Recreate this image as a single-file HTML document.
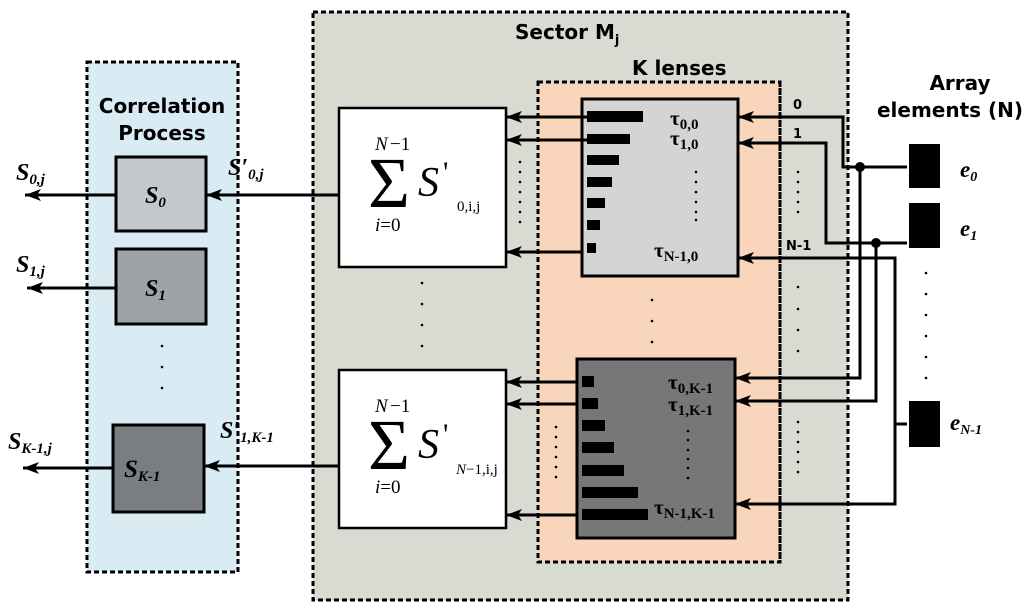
<!DOCTYPE html>
<html><head><meta charset="utf-8"><style>
html,body{margin:0;padding:0;background:#fff;}
svg{display:block;}
.sans{font-family:"DejaVu Sans","Liberation Sans",sans-serif;font-weight:bold;}
.serif{font-family:"Liberation Serif",serif;}
.bi{font-family:"Liberation Serif",serif;font-weight:bold;font-style:italic;}
.b{font-family:"Liberation Serif",serif;font-weight:bold;}
</style></head><body>
<svg width="1024" height="614" viewBox="0 0 1024 614" xmlns="http://www.w3.org/2000/svg">
<defs>
<marker id="ar2" markerWidth="16" markerHeight="12" refX="16" refY="6" orient="auto" markerUnits="userSpaceOnUse">
<path d="M0,0 L16,6 L0,12 L4,6 Z" fill="#000"/>
</marker>
</defs>
<!-- panels -->
<rect x="87" y="62" width="151" height="510" fill="#d9ecf3" stroke="#000" stroke-width="3" stroke-dasharray="5,3"/>
<rect x="313" y="12" width="535" height="588" fill="#d8dbd1" stroke="#000" stroke-width="3" stroke-dasharray="5,3"/>
<rect x="538" y="82" width="242" height="480" fill="#f8d5bb" stroke="#000" stroke-width="3" stroke-dasharray="5,3"/>
<rect x="781.5" y="84" width="64" height="514" fill="#d8dbd1"/>
<line x1="780" y1="82" x2="780" y2="562" stroke="#000" stroke-width="3" stroke-dasharray="5,3"/>

<!-- titles -->
<text x="515" y="39" class="sans" font-size="20">Sector M<tspan font-size="13" dy="5">j</tspan></text>
<text x="632" y="75" class="sans" font-size="20">K lenses</text>
<text x="960" y="90" class="sans" font-size="20" text-anchor="middle">Array</text>
<text x="950" y="117" class="sans" font-size="20" text-anchor="middle">elements (N)</text>
<text x="162" y="113" class="sans" font-size="20" text-anchor="middle">Correlation</text>
<text x="162" y="140" class="sans" font-size="20" text-anchor="middle">Process</text>

<!-- correlation boxes -->
<rect x="116" y="157" width="90" height="74" fill="#c3c8cc" stroke="#000" stroke-width="3"/>
<text x="145" y="203" class="bi" font-size="24">S<tspan font-size="15" dy="4">0</tspan></text>
<rect x="116" y="249" width="90" height="75" fill="#a0a3a6" stroke="#000" stroke-width="3"/>
<text x="145" y="296" class="bi" font-size="24">S<tspan font-size="15" dy="4">1</tspan></text>
<rect x="113" y="425" width="91" height="87" fill="#7a7e80" stroke="#000" stroke-width="3"/>
<text x="124" y="477" class="bi" font-size="25">S<tspan font-size="15" dy="4">K-1</tspan></text>
<g fill="#000"><circle cx="162" cy="346" r="1.3"/><circle cx="162" cy="367" r="1.3"/><circle cx="162" cy="388" r="1.3"/></g>

<!-- outputs -->
<line x1="116" y1="195" x2="25" y2="195" stroke="#000" stroke-width="3" marker-end="url(#ar2)"/>
<line x1="116" y1="288" x2="27" y2="288" stroke="#000" stroke-width="3" marker-end="url(#ar2)"/>
<line x1="113" y1="468" x2="23" y2="468" stroke="#000" stroke-width="3" marker-end="url(#ar2)"/>
<text x="16" y="180" class="bi" font-size="24">S<tspan font-size="15" dy="4">0,j</tspan></text>
<text x="16" y="272" class="bi" font-size="24">S<tspan font-size="15" dy="4">1,j</tspan></text>
<text x="8" y="449" class="bi" font-size="24">S<tspan font-size="15" dy="4">K-1,j</tspan></text>
<line x1="339" y1="195" x2="206" y2="195" stroke="#000" stroke-width="3" marker-end="url(#ar2)"/>
<line x1="339" y1="466" x2="204" y2="466" stroke="#000" stroke-width="3" marker-end="url(#ar2)"/>
<text x="228" y="175" class="bi" font-size="24">S′<tspan font-size="15" dy="4">0,j</tspan></text>
<text x="220" y="438" class="bi" font-size="24">S′<tspan font-size="15" dy="4">1,K-1</tspan></text>

<!-- sum boxes -->
<rect x="339" y="108" width="167" height="159" fill="#fff" stroke="#000" stroke-width="2.5"/>
<text x="375" y="150" class="serif" font-style="italic" font-size="19">N</text><text x="390" y="150" class="serif" font-size="19">−1</text>
<text x="368" y="207" class="serif" font-size="72">Σ</text>
<text x="418" y="196" class="serif" font-style="italic" font-size="42">S</text><text x="443" y="182" class="serif" font-size="30">'</text>
<text x="457" y="211" class="serif" font-size="15">0,i,j</text>
<text x="375" y="231" class="serif" font-size="19"><tspan font-style="italic">i</tspan>=0</text>

<rect x="339" y="370" width="167" height="158" fill="#fff" stroke="#000" stroke-width="2.5"/>
<text x="375" y="412" class="serif" font-style="italic" font-size="19">N</text><text x="390" y="412" class="serif" font-size="19">−1</text>
<text x="368" y="469" class="serif" font-size="72">Σ</text>
<text x="418" y="458" class="serif" font-style="italic" font-size="42">S</text><text x="443" y="444" class="serif" font-size="30">'</text>
<text x="456" y="474" class="serif" font-size="15"><tspan font-style="italic">N</tspan>−1,i,j</text>
<text x="375" y="493" class="serif" font-size="19"><tspan font-style="italic">i</tspan>=0</text>

<g fill="#000">
<circle cx="520" cy="162" r="1.3"/><circle cx="520" cy="172" r="1.3"/><circle cx="520" cy="182" r="1.3"/><circle cx="520" cy="192" r="1.3"/><circle cx="520" cy="202" r="1.3"/><circle cx="520" cy="212" r="1.3"/><circle cx="520" cy="222" r="1.3"/>
<circle cx="556" cy="427" r="1.3"/><circle cx="556" cy="437" r="1.3"/><circle cx="556" cy="447" r="1.3"/><circle cx="556" cy="457" r="1.3"/><circle cx="556" cy="467" r="1.3"/><circle cx="556" cy="477" r="1.3"/>
<circle cx="422" cy="283" r="1.3"/><circle cx="422" cy="304" r="1.3"/><circle cx="422" cy="325" r="1.3"/><circle cx="422" cy="346" r="1.3"/>
<circle cx="652" cy="300" r="1.3"/><circle cx="652" cy="321" r="1.3"/><circle cx="652" cy="342" r="1.3"/>
<circle cx="798" cy="287" r="1.3"/><circle cx="798" cy="309" r="1.3"/><circle cx="798" cy="330" r="1.3"/><circle cx="798" cy="351" r="1.3"/>
<circle cx="798" cy="172" r="1.3"/><circle cx="798" cy="182" r="1.3"/><circle cx="798" cy="192" r="1.3"/><circle cx="798" cy="202" r="1.3"/><circle cx="798" cy="212" r="1.3"/>
<circle cx="798" cy="422" r="1.3"/><circle cx="798" cy="432" r="1.3"/><circle cx="798" cy="442" r="1.3"/><circle cx="798" cy="452" r="1.3"/><circle cx="798" cy="462" r="1.3"/><circle cx="798" cy="472" r="1.3"/>
<circle cx="926" cy="273" r="1.3"/><circle cx="926" cy="294" r="1.3"/><circle cx="926" cy="315" r="1.3"/><circle cx="926" cy="336" r="1.3"/><circle cx="926" cy="357" r="1.3"/><circle cx="926" cy="378" r="1.3"/>
</g>

<!-- lens boxes -->
<rect x="582" y="99" width="156" height="177" fill="#d4d4d4" stroke="#000" stroke-width="3"/>
<g fill="#000">
<rect x="587" y="111" width="56" height="11"/><rect x="587" y="134" width="43" height="10"/><rect x="587" y="155" width="32" height="10"/><rect x="587" y="177" width="25" height="10"/><rect x="587" y="198" width="18" height="10"/><rect x="587" y="220" width="13" height="10"/><rect x="587" y="243" width="9" height="10"/>
</g>
<text x="670" y="125" class="b" font-size="21">τ<tspan font-size="15" dy="4">0,0</tspan></text>
<text x="670" y="145" class="b" font-size="21">τ<tspan font-size="15" dy="4">1,0</tspan></text>
<text x="654" y="257" class="b" font-size="21">τ<tspan font-size="15" dy="4">N-1,0</tspan></text>
<g fill="#000"><circle cx="696" cy="172" r="1.3"/><circle cx="696" cy="182" r="1.3"/><circle cx="696" cy="192" r="1.3"/><circle cx="696" cy="202" r="1.3"/><circle cx="696" cy="212" r="1.3"/><circle cx="696" cy="220" r="1.3"/></g>

<rect x="577" y="359" width="158" height="179" fill="#777" stroke="#000" stroke-width="3"/>
<g fill="#000">
<rect x="582" y="376" width="12" height="11"/><rect x="582" y="398" width="16" height="11"/><rect x="582" y="420" width="23" height="11"/><rect x="582" y="442" width="32" height="11"/><rect x="582" y="465" width="42" height="11"/><rect x="582" y="487" width="56" height="11"/><rect x="582" y="509" width="66" height="11"/>
</g>
<text x="668" y="389" class="b" font-size="21">τ<tspan font-size="15" dy="4">0,K-1</tspan></text>
<text x="668" y="411" class="b" font-size="21">τ<tspan font-size="15" dy="4">1,K-1</tspan></text>
<text x="654" y="514" class="b" font-size="21">τ<tspan font-size="15" dy="4">N-1,K-1</tspan></text>
<g fill="#000"><circle cx="688" cy="431" r="1.3"/><circle cx="688" cy="440" r="1.3"/><circle cx="688" cy="450" r="1.3"/><circle cx="688" cy="459" r="1.3"/><circle cx="688" cy="468" r="1.3"/><circle cx="688" cy="478" r="1.3"/></g>

<!-- lens -> sum arrows -->
<g stroke="#000" stroke-width="3" fill="none">
<line x1="587" y1="117" x2="506" y2="117" marker-end="url(#ar2)"/>
<line x1="587" y1="140" x2="506" y2="140" marker-end="url(#ar2)"/>
<line x1="582" y1="252" x2="506" y2="252" marker-end="url(#ar2)"/>
<line x1="577" y1="382" x2="506" y2="382" marker-end="url(#ar2)"/>
<line x1="577" y1="404" x2="506" y2="404" marker-end="url(#ar2)"/>
<line x1="577" y1="515" x2="506" y2="515" marker-end="url(#ar2)"/>
<polyline points="907,167 843,167 843,117 738,117" marker-end="url(#ar2)"/>
<polyline points="907,243 826,243 826,143 738,143" marker-end="url(#ar2)"/>
<polyline points="860,167 860,378 735,378" marker-end="url(#ar2)"/>
<polyline points="876,243 876,401 735,401" marker-end="url(#ar2)"/>
<polyline points="907,424 895,424 895,258 738,258" marker-end="url(#ar2)"/>
<polyline points="895,424 895,504 735,504" marker-end="url(#ar2)"/>
</g>
<circle cx="860" cy="167" r="5" fill="#000"/>
<circle cx="876" cy="243" r="5" fill="#000"/>
<text x="793" y="109" class="sans" font-size="13">0</text>
<text x="793" y="138" class="sans" font-size="13">1</text>
<text x="786" y="250" class="sans" font-size="13">N-1</text>

<!-- elements -->
<rect x="909" y="144" width="31" height="44" fill="#000"/>
<rect x="909" y="203" width="31" height="45" fill="#000"/>
<rect x="909" y="401" width="31" height="46" fill="#000"/>
<text x="960" y="177" class="bi" font-size="23">e<tspan font-size="14" dy="4">0</tspan></text>
<text x="960" y="236" class="bi" font-size="23">e<tspan font-size="14" dy="4">1</tspan></text>
<text x="950" y="430" class="bi" font-size="23">e<tspan font-size="14" dy="4">N-1</tspan></text>
</svg>
</body></html>
